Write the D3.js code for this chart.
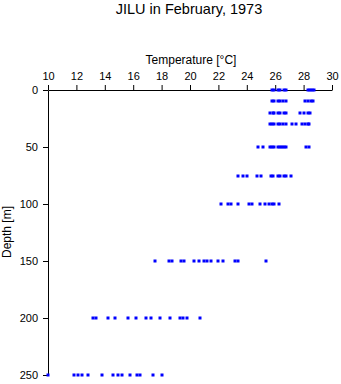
<!DOCTYPE html>
<html><head><meta charset="utf-8">
<script src="https://cdn.jsdelivr.net/npm/d3@7"></script>
<style>body{margin:0;background:#fff}svg{display:block;font-family:"Liberation Sans",Arial,sans-serif}</style>
</head><body><div id="chart"></div>
<script>
const title = "JILU in February, 1973";
const xLabel = "Temperature [°C]";
const yLabel = "Depth [m]";
const xTicks = [10,12,14,16,18,20,22,24,26,28,30];
const yTicks = [0,50,100,150,200,250];
const depths = [0,10,20,30,50,75,100,150,200,250];
const t0   = [25.8,25.92,26.2,26.34,26.62,26.76,28.31,28.45,28.59,28.73];
const t10  = [25.8,25.95,26.2,26.35,26.55,26.75,28.1,28.3,28.5,28.65];
const t20  = [25.6,25.85,25.95,26.2,26.35,26.6,26.75,27.75,28.0,28.3,28.45];
const t30  = [25.6,25.8,25.95,26.2,26.35,26.55,26.75,27.2,27.45,27.9,28.1,28.3,28.4];
const t50  = [24.8,25.15,25.65,25.8,25.95,26.2,26.35,26.5,26.65,26.75,28.2,28.4];
const t75  = [23.4,23.7,24.0,24.7,25.0,25.7,25.85,26.2,26.35,26.6,26.75,27.1];
const t100 = [22.2,22.7,22.9,23.4,24.15,24.4,24.95,25.3,25.55,25.75,25.95,26.25];
const t150 = [17.5,18.55,18.75,19.35,19.6,20.3,20.6,21.0,21.2,21.45,22.0,22.3,23.15,23.4,25.35];
const t200 = [13.15,13.35,14.2,14.7,15.6,16.2,16.9,17.25,17.9,18.6,19.3,19.5,19.8,20.7];
const t250 = [10.0,11.8,12.1,12.4,12.8,13.8,14.6,14.9,15.2,15.75,16.3,16.5,17.4,18.0];
const temps = [t0,t10,t20,t30,t50,t75,t100,t150,t200,t250];

const W = 341, H = 384;
const svg = d3.select("#chart").append("svg").attr("width", W).attr("height", H);
const x = d3.scaleLinear().domain([10,30]).range([48,332]);
const y = d3.scaleLinear().domain([0,250]).range([90,375]);

svg.append("text").attr("x",189).attr("y",14).attr("text-anchor","middle")
  .attr("font-size",14.5).text(title);

const xa = svg.append("g").attr("transform","translate(0,"+y(0)+")")
  .call(d3.axisTop(x).tickValues(xTicks).tickSize(5).tickSizeOuter(0).tickPadding(5).tickFormat(d3.format("d")));
xa.select(".domain").attr("stroke","#000");
xa.selectAll("text").attr("font-size",11).attr("font-family","Liberation Sans, Arial, sans-serif").attr("fill","#000");

const ya = svg.append("g").attr("transform","translate("+x(10)+",0)")
  .call(d3.axisLeft(y).tickValues(yTicks).tickSize(5).tickSizeOuter(0).tickPadding(5).tickFormat(d3.format("d")));
ya.selectAll("text").attr("font-size",11).attr("font-family","Liberation Sans, Arial, sans-serif").attr("fill","#000");

svg.append("text").attr("x",191).attr("y",64).attr("text-anchor","middle")
  .attr("font-size",12).text(xLabel);
svg.append("text").attr("transform","translate(11,232) rotate(-90)").attr("text-anchor","middle")
  .attr("font-size",12).text(yLabel);

const pts = [];
depths.forEach((d,i)=>temps[i].forEach(t=>pts.push({d,t})));
svg.append("g").selectAll("rect").data(pts).join("rect")
  .attr("x",p=>Math.round(x(p.t))-1.5).attr("y",p=>Math.round(y(p.d))-1.5)
  .attr("width",3).attr("height",3).attr("fill","#0000ff");
</script></body></html>
